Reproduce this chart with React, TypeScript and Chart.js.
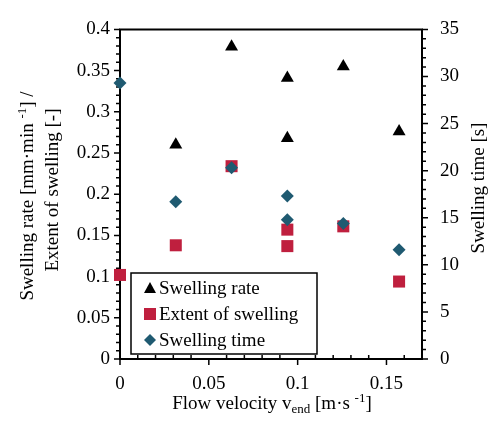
import React, { useEffect, useRef } from "react";
import { Chart, registerables } from "chart.js";

Chart.register(...registerables);

// ---- data ----
const xRate = [0.0314, 0.0628, 0.0942, 0.0942, 0.1257, 0.1571];
const swellingRate = [0.26, 0.379, 0.341, 0.268, 0.355, 0.276];

const xExtent = [0, 0.0314, 0.0628, 0.0942, 0.0942, 0.1257, 0.1571];
const extentOfSwelling = [0.102, 0.138, 0.234, 0.157, 0.137, 0.161, 0.094];

const xTime = [0, 0.0314, 0.0628, 0.0942, 0.0942, 0.1257, 0.1571];
const swellingTime = [29.3, 16.7, 20.3, 17.3, 14.8, 14.4, 11.6];

const xTicks = [0, 0.05, 0.1, 0.15];
const yLeftTicks = [0, 0.05, 0.1, 0.15, 0.2, 0.25, 0.3, 0.35, 0.4];
const yRightTicks = [0, 5, 10, 15, 20, 25, 30, 35];

const legendLabels = ["Swelling rate", "Extent of swelling", "Swelling time"];

const RED = "#BF1F3E";
const TEAL = "#1F5A71";
const FONT = "'Liberation Serif', 'Times New Roman', 'DejaVu Serif', serif";

type Run = { t: string; sup?: boolean; sub?: boolean };

function drawRuns(ctx: CanvasRenderingContext2D, runs: Run[], cx: number, cy: number, size: number) {
  const small = Math.round(size * 0.68);
  const widths = runs.map((r) => {
    ctx.font = `${r.sup || r.sub ? small : size}px ${FONT}`;
    return ctx.measureText(r.t).width;
  });
  const total = widths.reduce((a, b) => a + b, 0);
  let x = cx - total / 2;
  ctx.textAlign = "left";
  ctx.textBaseline = "alphabetic";
  runs.forEach((r, i) => {
    ctx.font = `${r.sup || r.sub ? small : size}px ${FONT}`;
    const dy = r.sup ? -size * 0.38 : r.sub ? size * 0.22 : 0;
    ctx.fillText(r.t, x, cy + dy);
    x += widths[i];
  });
}

const framePlugin = {
  id: "frame",
  beforeDatasetsDraw(chart: any) {
    const { ctx, chartArea, scales } = chart;
    const { left, right, top, bottom } = chartArea;
    ctx.save();
    ctx.strokeStyle = "#000";
    ctx.lineWidth = 2;
    ctx.beginPath();
    ctx.rect(left, top, right - left, bottom - top);
    ctx.stroke();
    ctx.lineWidth = 1.5;
    ctx.beginPath();
    for (let v = 0; v <= 40; v++) {
      const y = scales.y.getPixelForValue(v / 100);
      const len = v % 5 === 0 ? 6 : 4;
      ctx.moveTo(left - len, y);
      ctx.lineTo(left, y);
    }
    for (let v = 0; v <= 35; v++) {
      const y = scales.y2.getPixelForValue(v);
      const len = v % 5 === 0 ? 6 : 4;
      ctx.moveTo(right, y);
      ctx.lineTo(right + len, y);
    }
    for (let v = 0; v <= 17; v++) {
      const x = scales.x.getPixelForValue(v / 100);
      if (v % 5 === 0) {
        ctx.moveTo(x, bottom);
        ctx.lineTo(x, bottom + 6);
      } else {
        ctx.moveTo(x, bottom - 4);
        ctx.lineTo(x, bottom);
      }
    }
    ctx.stroke();
    ctx.restore();
  },
  afterDraw(chart: any) {
    const { ctx } = chart;
    ctx.save();
    ctx.fillStyle = "#000";
    // x title
    drawRuns(
      ctx,
      [
        { t: "Flow velocity v" },
        { t: "end", sub: true },
        { t: " [m·s " },
        { t: "-1", sup: true },
        { t: "]" },
      ],
      272,
      409,
      19
    );
    // left title
    ctx.save();
    ctx.translate(33, 196);
    ctx.rotate(-Math.PI / 2);
    drawRuns(ctx, [{ t: "Swelling rate [mm·min " }, { t: "-1", sup: true }, { t: "] /" }], 0, 0, 19);
    ctx.restore();
    ctx.save();
    ctx.translate(58, 190);
    ctx.rotate(-Math.PI / 2);
    drawRuns(ctx, [{ t: "Extent of swelling [-]" }], 0, 0, 19);
    ctx.restore();
    // right title
    ctx.save();
    ctx.translate(484, 188);
    ctx.rotate(-Math.PI / 2);
    drawRuns(ctx, [{ t: "Swelling time [s]" }], 0, 0, 19);
    ctx.restore();

    // legend
    const bx = 131, by = 273, bw = 186, bh = 81;
    ctx.fillStyle = "#fff";
    ctx.fillRect(bx, by, bw, bh);
    ctx.strokeStyle = "#000";
    ctx.lineWidth = 1.5;
    ctx.strokeRect(bx, by, bw, bh);
    const rows = [288, 314, 340];
    const sx = 150;
    ctx.fillStyle = "#000";
    ctx.beginPath();
    ctx.moveTo(sx, rows[0] - 6);
    ctx.lineTo(sx + 6, rows[0] + 5);
    ctx.lineTo(sx - 6, rows[0] + 5);
    ctx.closePath();
    ctx.fill();
    ctx.fillStyle = RED;
    ctx.fillRect(sx - 6, rows[1] - 6, 12, 12);
    ctx.fillStyle = TEAL;
    ctx.beginPath();
    ctx.moveTo(sx, rows[2] - 6);
    ctx.lineTo(sx + 6, rows[2]);
    ctx.lineTo(sx, rows[2] + 6);
    ctx.lineTo(sx - 6, rows[2]);
    ctx.closePath();
    ctx.fill();
    ctx.fillStyle = "#000";
    ctx.font = `19px ${FONT}`;
    ctx.textAlign = "left";
    ctx.textBaseline = "middle";
    legendLabels.forEach((l, i) => ctx.fillText(l, 159, rows[i] + 1));
    ctx.restore();
  },
};

const fmt = (v: any) => String(parseFloat(Number(v).toFixed(3)));

export default function App() {
  const ref = useRef<HTMLCanvasElement | null>(null);
  useEffect(() => {
    if (!ref.current) return;
    let chart: any = null;
    let cancelled = false;
    const build = () => {
      if (cancelled || !ref.current) return;
      const tickFont = { family: FONT, size: 19 };
      chart = new Chart(ref.current, {
        type: "scatter",
        data: {
          datasets: [
            {
              label: legendLabels[2],
              data: xTime.map((x, i) => ({ x, y: swellingTime[i] })),
              yAxisID: "y2",
              pointStyle: "rectRot",
              pointRadius: 6.5,
              backgroundColor: TEAL,
              borderColor: TEAL,
              borderWidth: 0,
              order: 0,
              clip: false,
            },
            {
              label: legendLabels[1],
              data: xExtent.map((x, i) => ({ x, y: extentOfSwelling[i] })),
              yAxisID: "y",
              pointStyle: "rect",
              pointRadius: 8.5,
              backgroundColor: RED,
              borderColor: RED,
              borderWidth: 0,
              order: 1,
              clip: false,
            },
            {
              label: legendLabels[0],
              data: xRate.map((x, i) => ({ x, y: swellingRate[i] })),
              yAxisID: "y",
              pointStyle: "triangle",
              pointRadius: 7.5,
              backgroundColor: "#000",
              borderColor: "#000",
              borderWidth: 0,
              order: 2,
              clip: false,
            },
          ],
        },
        options: {
          responsive: false,
          animation: false,
          events: [],
          layout: { padding: { top: 20, left: 0, right: 0, bottom: 0 } },
          plugins: { legend: { display: false }, tooltip: { enabled: false } },
          scales: {
            x: {
              type: "linear",
              position: "bottom",
              min: 0,
              max: 0.17,
              grid: { display: false, drawTicks: false },
              border: { display: false },
              ticks: { font: tickFont, color: "#000", padding: 14, callback: fmt },
              afterBuildTicks: (s: any) => {
                s.ticks = xTicks.map((value) => ({ value }));
              },
              afterFit: (s: any) => {
                s.height = 64;
              },
            },
            y: {
              type: "linear",
              position: "left",
              min: 0,
              max: 0.4,
              grid: { display: false, drawTicks: false },
              border: { display: false },
              ticks: { font: tickFont, color: "#000", padding: 10, callback: fmt },
              afterBuildTicks: (s: any) => {
                s.ticks = yLeftTicks.map((value) => ({ value }));
              },
              afterFit: (s: any) => {
                s.width = 120;
              },
            },
            y2: {
              type: "linear",
              position: "right",
              min: 0,
              max: 35,
              grid: { display: false, drawTicks: false },
              border: { display: false },
              ticks: { font: tickFont, color: "#000", padding: 18, callback: fmt },
              afterBuildTicks: (s: any) => {
                s.ticks = yRightTicks.map((value) => ({ value }));
              },
              afterFit: (s: any) => {
                s.width = 71;
              },
            },
          },
        },
        plugins: [framePlugin],
      } as any);
    };
    const fonts: any = (document as any).fonts;
    if (fonts && fonts.load) {
      Promise.all([
        fonts.load("19px 'Liberation Serif'"),
        fonts.load("13px 'Liberation Serif'"),
      ])
        .catch(() => null)
        .then(() => build());
    } else {
      build();
    }
    return () => {
      cancelled = true;
      if (chart) chart.destroy();
    };
  }, []);
  return (
    <div style={{ position: "absolute", left: 0, top: 0, width: 493, height: 423, background: "#fff" }}>
      <span style={{ fontFamily: "'Liberation Serif'", position: "absolute", left: -1000, top: 0 }}>
        Swelling
      </span>
      <canvas ref={ref} width={493} height={423} style={{ display: "block" }} />
    </div>
  );
}
